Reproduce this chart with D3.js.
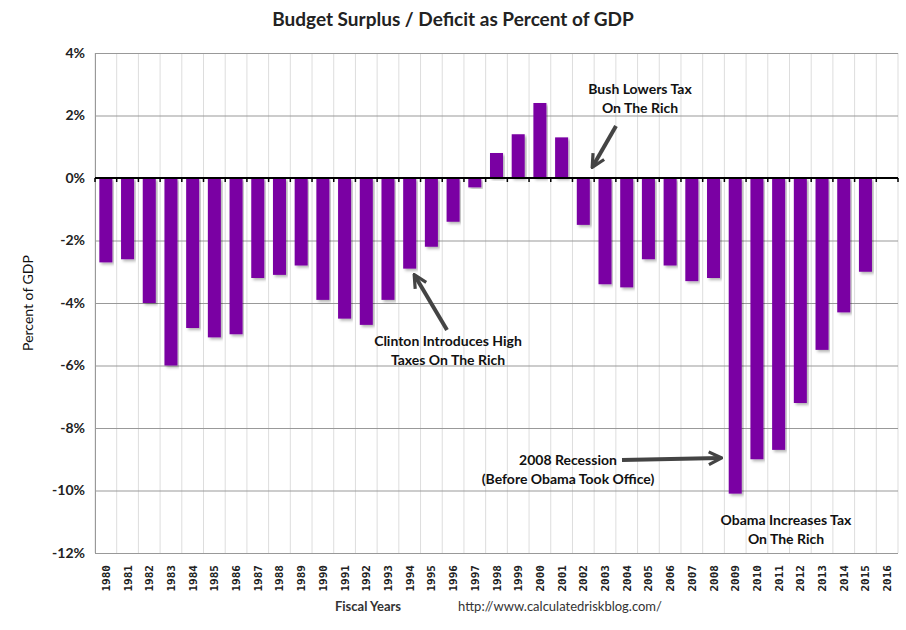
<!DOCTYPE html>
<html>
<head>
<meta charset="utf-8">
<script src="https://cdn.jsdelivr.net/npm/d3@7"></script>
<style>
  body { margin: 0; background: #fff; overflow: hidden; }
  svg { display: block; }
  text { font-family: Lato, "Open Sans", sans-serif; }
</style>
</head>
<body>
<svg id="chart"></svg>
<script>
const years = d3.range(1980, 2017).map(String);
const deficits = [-2.7, -2.6, -4.0, -6.0, -4.8, -5.1, -5.0, -3.2, -3.1, -2.8,
  -3.9, -4.5, -4.7, -3.9, -2.9, -2.2, -1.4, -0.3, 0.8, 1.4,
  2.4, 1.3, -1.5, -3.4, -3.5, -2.6, -2.8, -3.3, -3.2, -10.1,
  -9.0, -8.7, -7.2, -5.5, -4.3, -3.0, null];
const yTicks = [4, 2, 0, -2, -4, -6, -8, -10, -12];

const data = years.map((y, i) => ({ year: y, value: deficits[i] }));

const width = 906, height = 630;
const margin = { top: 53, right: 8, bottom: 77, left: 95 };
const innerWidth = width - margin.left - margin.right;
const innerHeight = height - margin.top - margin.bottom;

const svg = d3.select('#chart').attr('width', width).attr('height', height);

const defs = svg.append('defs');
const marker = defs.append('marker')
  .attr('id', 'arrow')
  .attr('viewBox', '0 0 10 10')
  .attr('refX', 8).attr('refY', 5)
  .attr('markerWidth', 4).attr('markerHeight', 4)
  .attr('orient', 'auto');
marker.append('path').attr('d', 'M1,1 L9,5 L1,9').attr('fill', 'none')
  .attr('stroke', '#444').attr('stroke-width', 2);

const shadow = defs.append('filter').attr('id', 'shadow');
shadow.append('feDropShadow').attr('dx', 2).attr('dy', 2)
  .attr('stdDeviation', 1.5).attr('flood-color', '#000').attr('flood-opacity', 0.3);

const g = svg.append('g').attr('transform', `translate(${margin.left},${margin.top})`);

const x = d3.scaleBand().domain(years).range([0, innerWidth]).paddingInner(0.4).paddingOuter(0.2);
const y = d3.scaleLinear().domain([-12, 4]).range([innerHeight, 0]);
const xBoundary = d3.scaleLinear().domain([0, years.length]).range([0, innerWidth]);

// vertical grid at category boundaries
g.append('g').selectAll('line')
  .data(d3.range(years.length + 1))
  .join('line')
  .attr('x1', i => xBoundary(i)).attr('x2', i => xBoundary(i))
  .attr('y1', 0).attr('y2', innerHeight)
  .attr('stroke', '#ddd').attr('stroke-width', 1);

// horizontal grid
g.append('g')
  .call(d3.axisLeft(y).tickValues(yTicks).tickSize(-innerWidth).tickFormat(''))
  .call(s => s.select('.domain').remove())
  .call(s => s.selectAll('line').attr('stroke', '#999'));

// left axis labels
g.append('g')
  .call(d3.axisLeft(y).tickValues(yTicks).tickSize(0).tickPadding(10).tickFormat(d => d + '%'))
  .call(s => s.select('.domain').attr('stroke', '#999'))
  .call(s => s.selectAll('text').style('font-size', '14px').style('font-weight', 'bold')
    .style('font-family', 'Lato, sans-serif').attr('fill', '#222'));

// bars
g.append('g').selectAll('rect')
  .data(data.filter(d => d.value !== null))
  .join('rect')
  .attr('x', d => x(d.year))
  .attr('y', d => y(Math.max(0, d.value)))
  .attr('width', x.bandwidth())
  .attr('height', d => Math.abs(y(d.value) - y(0)))
  .attr('fill', '#7a00a3')
  .attr('filter', 'url(#shadow)');

// zero line with ticks
g.append('line').attr('x1', 0).attr('x2', innerWidth)
  .attr('y1', y(0)).attr('y2', y(0)).attr('stroke', '#000').attr('stroke-width', 2);
g.append('g').selectAll('line')
  .data(d3.range(years.length + 1))
  .join('line')
  .attr('x1', i => xBoundary(i)).attr('x2', i => xBoundary(i))
  .attr('y1', y(0)).attr('y2', y(0) + 4)
  .attr('stroke', '#000').attr('stroke-width', 1.5);

// year labels
g.append('g').selectAll('text')
  .data(years)
  .join('text')
  .attr('transform', d => `translate(${x(d) + x.bandwidth() / 2 + 4},${innerHeight + 12}) rotate(-90)`)
  .attr('text-anchor', 'end')
  .style('font-family', '"DejaVu Sans Mono", monospace')
  .style('font-size', '11px').style('font-weight', 'bold').attr('fill', '#222')
  .text(d => d);

// titles
svg.append('text').attr('x', 453).attr('y', 26).attr('text-anchor', 'middle')
  .style('font-size', '19px').style('font-weight', 'bold').attr('fill', '#222')
  .text('Budget Surplus / Deficit as Percent of GDP');
svg.append('text').attr('transform', 'translate(33,303) rotate(-90)').attr('text-anchor', 'middle')
  .style('font-size', '14px').attr('fill', '#111').text('Percent of GDP');
svg.append('text').attr('x', 368).attr('y', 611).attr('text-anchor', 'middle')
  .style('font-size', '13px').style('font-weight', 'bold').attr('fill', '#333').text('Fiscal Years');
svg.append('text').attr('x', 560).attr('y', 611).attr('text-anchor', 'middle')
  .style('font-size', '13px').attr('fill', '#333').text('http://www.calculatedriskblog.com/');

// annotations
const notes = [
  { lines: ['Bush Lowers Tax', 'On The Rich'], x: 640, y: 94 },
  { lines: ['Clinton Introduces High', 'Taxes On The Rich'], x: 448, y: 346 },
  { lines: ['2008 Recession', '(Before Obama Took Office)'], x: 568, y: 465 },
  { lines: ['Obama Increases Tax', 'On The Rich'], x: 786, y: 525 }
];
notes.forEach(n => {
  const t = svg.append('text').attr('text-anchor', 'middle')
    .style('font-size', '14px').style('font-weight', 'bold').attr('fill', '#111');
  n.lines.forEach((l, i) => t.append('tspan').attr('x', n.x).attr('y', n.y + i * 19).text(l));
});

const arrows = [
  [616, 126, 593, 166],
  [447, 330, 415, 276],
  [622, 460, 720, 458],
  [941, 510, 927, 464]
];
svg.append('g').selectAll('line')
  .data(arrows)
  .join('line')
  .attr('x1', d => d[0]).attr('y1', d => d[1])
  .attr('x2', d => d[2]).attr('y2', d => d[3])
  .attr('stroke', '#444').attr('stroke-width', 4)
  .attr('marker-end', 'url(#arrow)');
</script>
</body>
</html>
